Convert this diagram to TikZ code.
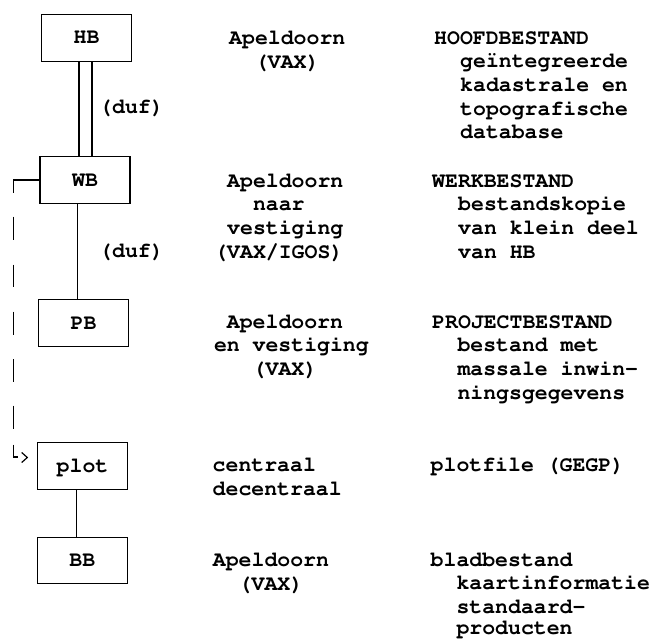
\documentclass[tikz,border=0pt]{standalone}
\usepackage[T1]{fontenc}
\usepackage{courier}
\newcommand\typew{\fontsize{21.5}{23.8}\selectfont\ttfamily\bfseries}
\begin{document}
\begin{tikzpicture}[x=1pt,y=-1pt,
  box/.style={draw, line width=1.3pt, rectangle, minimum width=90pt,
    minimum height=46.5pt, inner sep=0pt, text height=12pt, text depth=0pt,
    font=\typew},
  txt/.style={anchor=base west, inner sep=0pt, font=\typew},
  link/.style={line width=1.2pt},
  returnline/.style={line width=1.3pt, dash pattern=on 38.7pt off 24pt
    on 23.5pt off 24.5pt on 22.5pt off 24.5pt on 23pt off 24.5pt
    on 23pt off 23.5pt on 23.5pt off 15.5pt on 100pt},
]
\useasboundingbox (0,0) rectangle (650,639);

% files
\node[box] (HB)   at (86.5,38)    {HB};
\node[box] (WB)   at (85,180)     {WB};
\node[box] (PB)   at (83.5,323)   {PB};
\node[box] (plot) at (82.5,466)   {plot};
\node[box] (BB)   at (82.3,560.5) {BB};

% connections between the files
\draw[link] ([xshift=-7.5pt]HB.south) -- ([xshift=-7.5pt]HB.south |- WB.north);
\draw[link] ([xshift=5.5pt]HB.south)  -- ([xshift=5.5pt]HB.south |- WB.north);
\draw[link] ([xshift=-7.3pt]WB.south) -- ([xshift=-7.3pt]WB.south |- PB.north);
\draw[link] ([xshift=-5.8pt]plot.south) -- ([xshift=-5.8pt]plot.south |- BB.north);

\node[txt] (duf1) at (99,114) {(duf)};
\node[txt] (duf2) at (99,257) {(duf)};

% return path from WB to plot
\coordinate (hook) at (13.3,457);
\coordinate (tip)  at (27.3,457.5);
\draw[returnline] (WB.west) -- (WB.west -| hook) -- (hook) -- ++(4.5,0);
\draw[link] ([shift={(-5.6,-5)}]tip) -- (tip) -- ([shift={(-5.6,5)}]tip);

% location column
\node[txt] (loc1a) at (229,44.3)   {Apeldoorn};
\node[txt] (loc1b) at (254.8,68.3) {(VAX)};
\node[txt] (loc2a) at (227,187.3)  {Apeldoorn};
\node[txt] (loc2b) at (252.8,210.7){naar};
\node[txt] (loc2c) at (227,234.3)  {vestiging};
\node[txt] (loc2d) at (214.1,258.3){(VAX/IGOS)};
\node[txt] (loc3a) at (226.7,328)  {Apeldoorn};
\node[txt] (loc3b) at (213.8,351.7){en vestiging};
\node[txt] (loc3c) at (252.5,375)  {(VAX)};
\node[txt] (loc4a) at (212.5,471.7){centraal};
\node[txt] (loc4b) at (212.5,495)  {decentraal};
\node[txt] (loc5a) at (212.7,566.7){Apeldoorn};
\node[txt] (loc5b) at (238.5,590)  {(VAX)};

% description column
\node[txt] (dsc1a) at (434,44.3)   {HOOFDBESTAND};
\node[txt] (dsc1b) at (460,67.7)   {ge\"integreerde};
\node[txt] (dsc1c) at (460,91.5)   {kadastrale en};
\node[txt] (dsc1d) at (460,115.2)  {topografische};
\node[txt] (dsc1e) at (460,139)    {database};
\node[txt] (dsc2a) at (432,187.3)  {WERKBESTAND};
\node[txt] (dsc2b) at (458,210.7)  {bestandskopie};
\node[txt] (dsc2c) at (458,234.3)  {van klein deel};
\node[txt] (dsc2d) at (458,258.3)  {van HB};
\node[txt] (dsc3a) at (432,328)    {PROJECTBESTAND};
\node[txt] (dsc3b) at (457.3,351.7){bestand met};
\node[txt] (dsc3c) at (457.3,375)  {massale inwin-};
\node[txt] (dsc3d) at (457.3,399)  {ningsgegevens};
\node[txt] (dsc4a) at (430.5,471.7){plotfile (GEGP)};
\node[txt] (dsc5a) at (430.5,566.7){bladbestand};
\node[txt] (dsc5b) at (456.3,589.3){kaartinformatie};
\node[txt] (dsc5c) at (456.3,613)  {standaard-};
\node[txt] (dsc5d) at (456.3,634.5){producten};
\end{tikzpicture}
\end{document}
